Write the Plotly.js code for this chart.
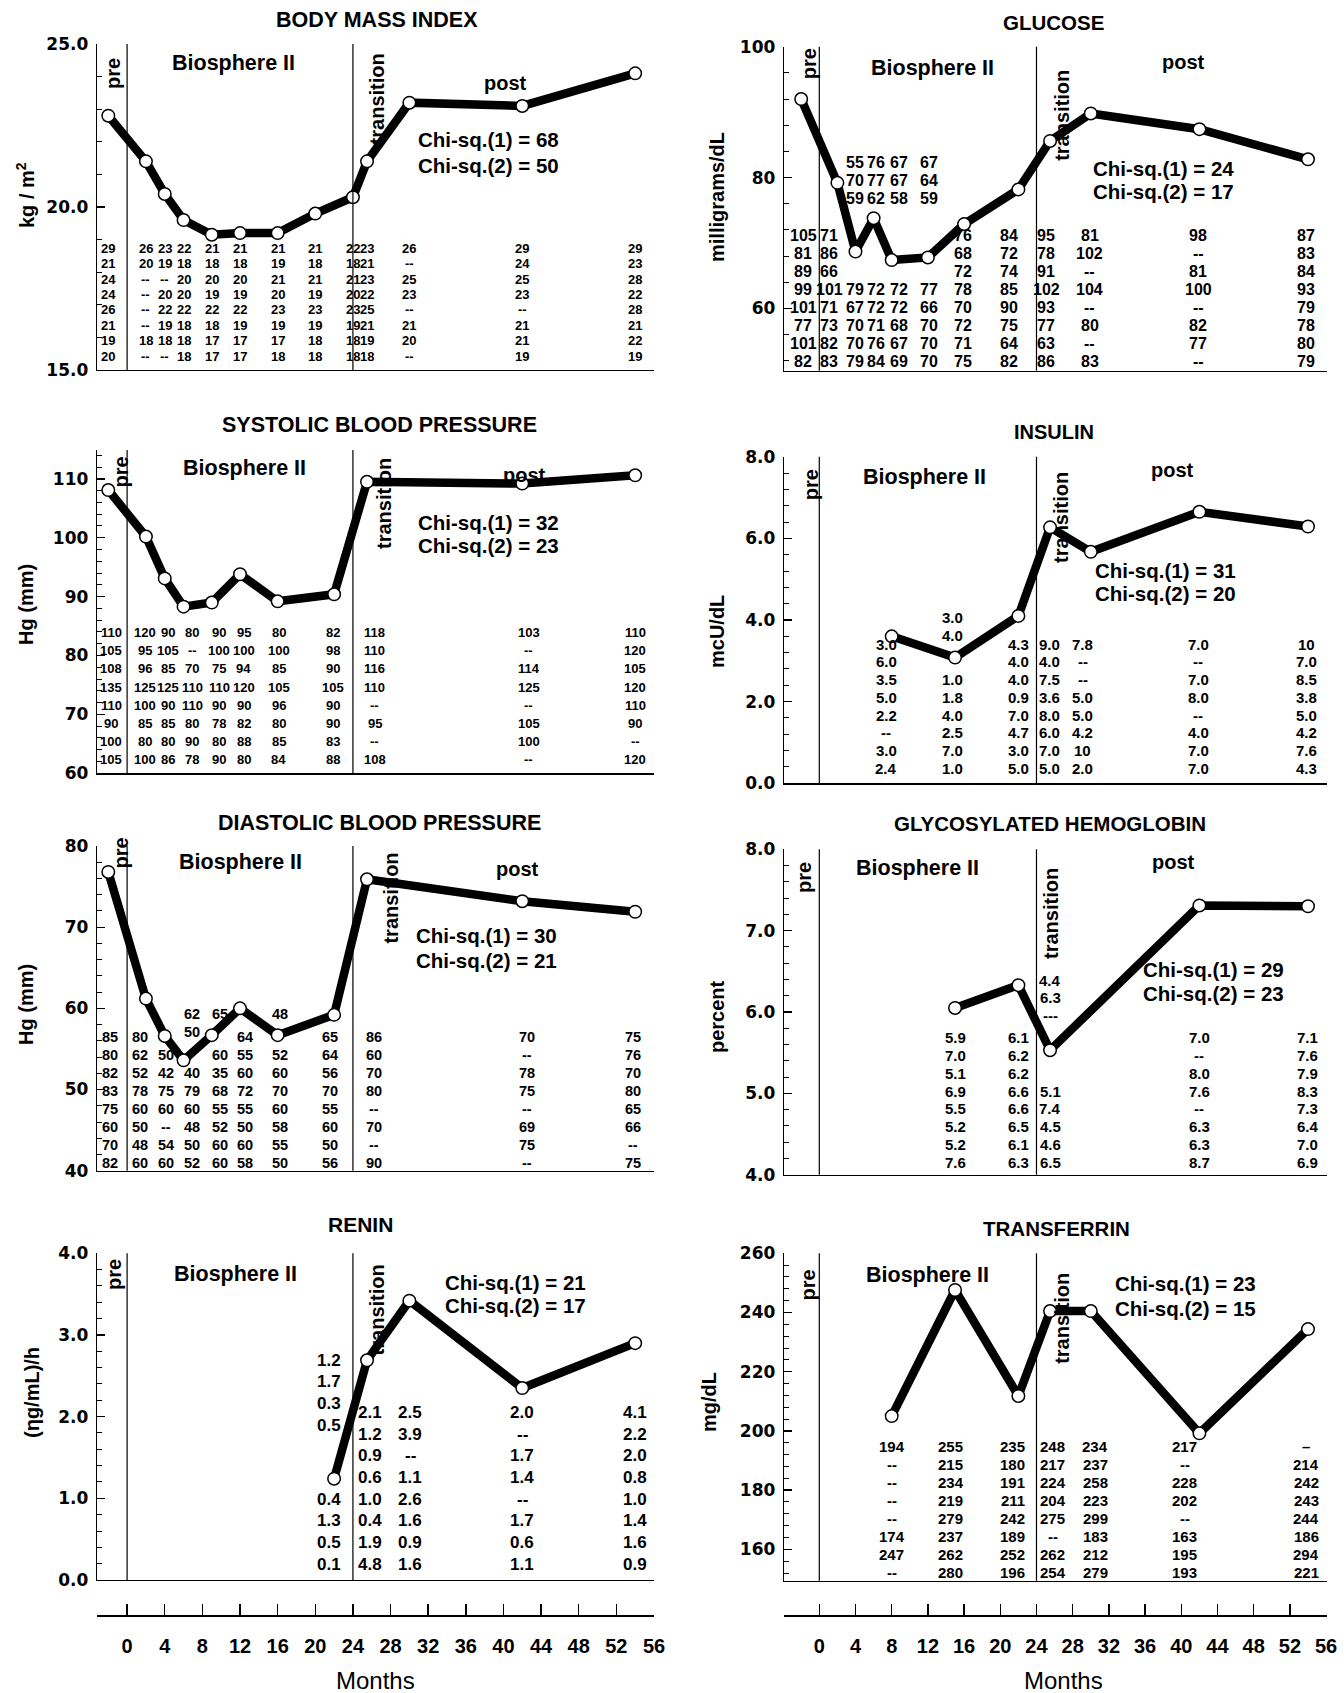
<!DOCTYPE html>
<html><head><meta charset="utf-8">
<script src="https://cdn.plot.ly/plotly-3.0.1.min.js"></script>
<style>html,body{margin:0;padding:0;background:#fff}#chart{width:1344px;height:1693px}</style>
</head><body><div id="chart"></div>
<script>
// ================= DATA =================
const monthTicks = [0,4,8,12,16,20,24,28,32,36,40,44,48,52,56];

const panelTitles = ["BODY MASS INDEX","GLUCOSE","SYSTOLIC BLOOD PRESSURE","INSULIN","DIASTOLIC BLOOD PRESSURE","GLYCOSYLATED HEMOGLOBIN","RENIN","TRANSFERRIN"];
const yTitles = ["kg / m<sup>2</sup>","milligrams/dL","Hg (mm)","mcU/dL","Hg (mm)","percent","(ηg/mL)/h","mg/dL"];
const chiSq1 = [68,24,32,31,30,29,21,23];
const chiSq2 = [50,17,23,20,21,23,17,15];
const phaseLabels = ["pre","Biosphere II","transition","post"];

const bmiMonths = [-2,2,4,6,9,12,16,20,24,25.5,30,42,54];
const bmiValues = [22.8,21.4,20.4,19.6,19.15,19.2,19.2,19.8,20.3,21.4,23.2,23.1,24.1];
const bmiTable = [
 ["29","21","24","24","26","21","19","20"],
 ["26","20","--","--","--","--","18","--"],
 ["23","19","--","20","22","19","18","--"],
 ["22","18","20","20","22","18","18","18"],
 ["21","18","20","19","22","18","17","17"],
 ["21","18","20","19","22","19","17","17"],
 ["21","19","21","20","23","19","17","18"],
 ["21","18","21","19","23","19","18","18"],
 ["22","18","21","20","23","19","18","18"],
 ["23","21","23","22","25","21","19","18"],
 ["26","--","25","23","--","21","20","--"],
 ["29","24","25","23","--","21","21","19"],
 ["29","23","28","22","28","21","22","19"]
];

const gluMonths = [-2,2,4,6,8,12,16,22,25.5,30,42,54];
const gluValues = [92,79.2,68.7,73.8,67.4,67.8,72.9,78.2,85.6,89.8,87.4,82.8];
const gluTable = [
 ["105","81","89","99","101","77","101","82"],
 ["71","86","66","101","71","73","82","83"],
 ["55","70","59","79","67","70","70","79"],
 ["76","77","62","72","72","71","76","84"],
 ["67","67","58","72","72","68","67","69"],
 ["67","64","59","77","66","70","70","70"],
 ["76","68","72","78","70","72","71","75"],
 ["84","72","74","85","90","75","64","82"],
 ["95","78","91","102","93","77","63","86"],
 ["81","102","--","104","--","80","--","83"],
 ["98","--","81","100","--","82","77","--"],
 ["87","83","84","93","79","78","80","79"]
];

const sbpMonths = [-2,2,4,6,9,12,16,22,25.5,42,54];
const sbpValues = [108.1,100.2,93.1,88.3,89.0,93.8,89.2,90.4,109.5,109.2,110.6];
const sbpTable = [
 ["110","105","108","135","110","90","100","105"],
 ["120","95","96","125","100","85","80","100"],
 ["90","105","85","125","90","85","80","86"],
 ["80","--","70","110","110","80","90","78"],
 ["90","100","75","110","90","78","80","90"],
 ["95","100","94","120","90","82","88","80"],
 ["80","100","85","105","96","80","85","84"],
 ["82","98","90","105","90","90","83","88"],
 ["118","110","116","110","--","95","--","108"],
 ["103","--","114","125","--","105","100","--"],
 ["110","120","105","120","110","90","--","120"]
];

const insMonths = [8,15,22,25.5,30,42,54];
const insValues = [3.6,3.08,4.1,6.27,5.67,6.65,6.29];
const insTable = [
 ["3.0","6.0","3.5","5.0","2.2","--","3.0","2.4"],
 ["3.0","4.0","1.0","1.8","4.0","2.5","7.0","1.0"],
 ["4.3","4.0","4.0","0.9","7.0","4.7","3.0","5.0"],
 ["9.0","4.0","7.5","3.6","8.0","6.0","7.0","5.0"],
 ["7.8","--","--","5.0","5.0","4.2","10","2.0"],
 ["7.0","--","7.0","8.0","--","4.0","7.0","7.0"],
 ["10","7.0","8.5","3.8","5.0","4.2","7.6","4.3"]
];

const dbpMonths = [-2,2,4,6,9,12,16,22,25.5,42,54];
const dbpValues = [76.8,61.2,56.6,53.6,56.7,60.0,56.7,59.2,75.9,73.2,71.9];
const dbpTable = [
 ["85","80","82","83","75","60","70","82"],
 ["80","62","52","78","60","50","48","60"],
 ["","50","42","75","60","--","54","60"],
 ["62","50","40","79","60","48","50","52"],
 ["65","60","35","68","55","52","60","60"],
 ["64","55","60","72","55","50","60","58"],
 ["48","52","60","70","60","58","55","50"],
 ["65","64","56","70","55","60","50","56"],
 ["86","60","70","80","--","70","--","90"],
 ["70","--","78","75","--","69","75","--"],
 ["75","76","70","80","65","66","--","75"]
];

const hbaMonths = [15,22,25.5,42,54];
const hbaValues = [6.05,6.33,5.53,7.31,7.30];
const hbaTable = [
 ["5.9","7.0","5.1","6.9","5.5","5.2","5.2","7.6"],
 ["6.1","6.2","6.2","6.6","6.6","6.5","6.1","6.3"],
 ["4.4","6.3","---","5.1","7.4","4.5","4.6","6.5"],
 ["7.0","--","8.0","7.6","--","6.3","6.3","8.7"],
 ["7.1","7.6","7.9","8.3","7.3","6.4","7.0","6.9"]
];

const reninMonths = [22,25.5,30,42,54];
const reninValues = [1.24,2.69,3.42,2.35,2.90];
const reninTable = [
 ["1.2","1.7","0.3","0.5","0.4","1.3","0.5","0.1"],
 ["2.1","1.2","0.9","0.6","1.0","0.4","1.9","4.8"],
 ["2.5","3.9","--","1.1","2.6","1.6","0.9","1.6"],
 ["2.0","--","1.7","1.4","--","1.7","0.6","1.1"],
 ["4.1","2.2","2.0","0.8","1.0","1.4","1.6","0.9"]
];

const trfMonths = [8,15,22,25.5,30,42,54];
const trfValues = [205.0,247.6,211.8,240.5,240.5,199.2,234.4];
const trfTable = [
 ["194","--","--","--","--","174","247","--"],
 ["255","215","234","219","279","237","262","280"],
 ["235","180","191","211","242","189","252","196"],
 ["248","217","224","204","275","--","262","254"],
 ["234","237","258","223","299","183","212","279"],
 ["217","--","228","202","--","163","195","193"],
 ["–","214","242","243","244","186","294","221"]
];

const series = [
 {months:bmiMonths, values:bmiValues, table:bmiTable},
 {months:gluMonths, values:gluValues, table:gluTable},
 {months:sbpMonths, values:sbpValues, table:sbpTable},
 {months:insMonths, values:insValues, table:insTable},
 {months:dbpMonths, values:dbpValues, table:dbpTable},
 {months:hbaMonths, values:hbaValues, table:hbaTable},
 {months:reninMonths, values:reninValues, table:reninTable},
 {months:trfMonths, values:trfValues, table:trfTable}
];

// ================= LAYOUT / STYLE =================
const W = 1344, H = 1693;
const PX = v => v / W, PY = v => 1 - v / H;
const COLS = {L:{x0:97, x1:654, range:[-3.2,56]}, R:{x0:784, x1:1327, range:[-3.9,56.1]}};
const TXT = "'Liberation Sans', Arial, Helvetica, sans-serif";
const NUM = "'DejaVu Sans', 'Liberation Sans', sans-serif";

// tx: horizontal placement of the table columns (month units), null = under the point
const geo = [
 {col:'L', top:44, bot:370, yr:[15,25], dtick:5, minor:1, fmt:'.1f', title:[377,20], tsz:21.5, ylab:[26,195],
  tfam:TXT, tfont:13, t0:248.3, ts:15.4, raise:{cells:[], by:0}, tx:null,
  pre:[-1.5,73], bio:[11.3,63], trans:[26.6,99], post:[40.2,83], chi:[30.7,140,165]},
 {col:'R', top:46.7, bot:370.7, yr:[50.5,100], dtick:20, minor:4, fmt:'d', title:[1053,23], tsz:20.5, ylab:[717,197],
  tfam:TXT, tfont:16, t0:235, ts:18.1, raise:{cells:[[2,0],[2,1],[2,2],[3,0],[3,1],[3,2],[4,0],[4,1],[4,2],[5,0],[5,1],[5,2]], by:4},
  tx:[-1.8,1.1,3.9,6.3,8.8,12.1,15.9,21.0,25.1,29.9,41.9,53.8],
  pre:[-1.1,64], bio:[12.5,68], trans:[26.8,115], post:[40.2,62], chi:[30.0,168,192]},
 {col:'L', top:450, bot:773.3, yr:[60,114.9], dtick:10, minor:2, fmt:'d', title:[379,425], tsz:21.5, ylab:[26,605],
  tfam:TXT, tfont:13, t0:632.3, ts:18.24, raise:{cells:[], by:0},
  tx:[-1.7,1.9,4.3,6.9,9.8,12.4,16.1,21.9,26.3,42.7,54.0],
  pre:[-0.6,472], bio:[12.5,468], trans:[27.3,503], post:[42.2,475], chi:[30.7,522,545]},
 {col:'R', top:456.7, bot:783.3, yr:[0,8], dtick:2, minor:0.4, fmt:'.1f', title:[1054,432], tsz:20, ylab:[717,632],
  tfam:TXT, tfont:15, t0:644.3, ts:17.7, raise:{cells:[[1,0],[1,1]], by:1.5},
  tx:[7.4,14.7,22.0,25.4,29.1,41.9,53.8],
  pre:[-0.9,485], bio:[11.6,477], trans:[26.7,517], post:[39.0,470], chi:[30.2,570,593]},
 {col:'L', top:846, bot:1170.7, yr:[40,80], dtick:10, minor:2, fmt:'d', title:[379,823], tsz:21.5, ylab:[26,1005],
  tfam:TXT, tfont:14.5, t0:1037.3, ts:17.9, raise:{cells:[[3,0],[3,1],[4,0],[6,0]], by:1.29},
  tx:[-1.8,1.4,4.1,6.9,9.9,12.5,16.3,21.6,26.2,42.5,53.8],
  pre:[-0.6,853], bio:[12.1,862], trans:[28.0,898], post:[41.5,869], chi:[30.5,935,960]},
 {col:'R', top:849.3, bot:1174.7, yr:[4,8], dtick:1, minor:0.2, fmt:'.1f', title:[1050,823], tsz:20.5, ylab:[717,1017],
  tfam:TXT, tfont:15, t0:1037.3, ts:17.9, raise:{cells:[[2,0],[2,1],[2,2]], by:3.2}, tx:null,
  pre:[-1.7,877], bio:[10.8,868], trans:[25.6,913], post:[39.1,862], chi:[35.5,969,993]},
 {col:'L', top:1253.3, bot:1580, yr:[0,4], dtick:1, minor:0.2, fmt:'.1f', title:[360,1224], tsz:21, ylab:[32,1393],
  tfam:TXT, tfont:17, t0:1412.3, ts:21.7, raise:{cells:[[0,0],[0,1],[0,2],[0,3]], by:2.4},
  tx:[21.5,25.8,30.1,42,54],
  pre:[-1.4,1274], bio:[11.5,1274], trans:[26.6,1310], post:null, chi:[33.6,1282,1305]},
 {col:'R', top:1253.3, bot:1580.7, yr:[149.4,260], dtick:20, minor:4, fmt:'d', title:[1056,1228], tsz:20.5, ylab:[709,1402],
  tfam:TXT, tfont:15, t0:1446.7, ts:17.95, raise:{cells:[], by:0},
  tx:[8.0,14.5,21.4,25.8,30.5,40.4,53.8],
  pre:[-1.2,1285], bio:[12.0,1275], trans:[26.8,1318], post:null, chi:[32.4,1283,1308]}
];

const data = [];
const shapes = [];
const annotations = [];
const layout = {
  width: W, height: H, margin:{l:0,r:0,t:0,b:0},
  paper_bgcolor:'#fff', plot_bgcolor:'rgba(0,0,0,0)', showlegend:false,
  font:{family:TXT, color:'#000'},
  shapes, annotations
};

const boldTxt = (size, fam) => ({family:fam || TXT, size:size, color:'#000', weight:700});

geo.forEach((g, k) => {
  const i = k + 1;
  const c = COLS[g.col];
  const xa = 'x' + i, ya = 'y' + i;
  const s = series[k];
  layout['xaxis' + i] = {
    domain:[PX(c.x0), PX(c.x1)], range:c.range, anchor:ya,
    showline:true, linecolor:'#000', linewidth:1.3, ticks:'', showticklabels:false,
    showgrid:false, zeroline:false, fixedrange:true
  };
  layout['yaxis' + i] = {
    domain:[PY(g.bot), PY(g.top)], range:g.yr, anchor:xa,
    showline:true, linecolor:'#000', linewidth:1.3,
    ticks:'inside', ticklen:8, tickwidth:1.3, tickcolor:'#000',
    tick0:0, dtick:g.dtick, tickformat:g.fmt, ticklabelstandoff:4,
    tickfont:{family:NUM, size:17, color:'#000', weight:700},
    minor:{dtick:g.minor, tick0:0, ticks:'inside', ticklen:5, tickwidth:1, tickcolor:'#000', showgrid:false},
    showgrid:false, zeroline:false, fixedrange:true
  };
  data.push({
    type:'scatter', mode:'lines+markers', x:s.months, y:s.values, xaxis:xa, yaxis:ya,
    line:{color:'#000', width:8.5}, cliponaxis:false, hoverinfo:'skip',
    marker:{symbol:'circle', size:12.5, color:'#fff', line:{color:'#000', width:1.5}}
  });
  // phase dividers at month 0 and 24
  [0, 24].forEach(m => shapes.push({type:'line', xref:xa, yref:ya + ' domain', x0:m, x1:m, y0:0, y1:1,
    line:{color:'#000', width:1.2}}));
  // title & y label
  annotations.push({xref:'paper', yref:'paper', x:PX(g.title[0]), y:PY(g.title[1]), text:panelTitles[k],
    showarrow:false, xanchor:'center', yanchor:'middle', font:boldTxt(g.tsz)});
  annotations.push({xref:'paper', yref:'paper', x:PX(g.ylab[0]), y:PY(g.ylab[1]), text:yTitles[k],
    showarrow:false, xanchor:'center', yanchor:'middle', textangle:-90, font:boldTxt(20)});
  // phase labels
  annotations.push({xref:xa, yref:'paper', x:g.pre[0], y:PY(g.pre[1]), text:phaseLabels[0], textangle:-90,
    showarrow:false, xanchor:'center', yanchor:'middle', font:boldTxt(20)});
  annotations.push({xref:xa, yref:'paper', x:g.bio[0], y:PY(g.bio[1]), text:phaseLabels[1],
    showarrow:false, xanchor:'center', yanchor:'middle', font:boldTxt(21.5)});
  annotations.push({xref:xa, yref:'paper', x:g.trans[0], y:PY(g.trans[1]), text:phaseLabels[2], textangle:-90,
    showarrow:false, xanchor:'center', yanchor:'middle', font:boldTxt(20)});
  if (g.post) annotations.push({xref:xa, yref:'paper', x:g.post[0], y:PY(g.post[1]), text:phaseLabels[3],
    showarrow:false, xanchor:'center', yanchor:'middle', font:boldTxt(20)});
  annotations.push({xref:xa, yref:'paper', x:g.chi[0], y:PY(g.chi[1]), text:'Chi-sq.(1) = ' + chiSq1[k],
    showarrow:false, xanchor:'left', yanchor:'middle', font:boldTxt(20.5)});
  annotations.push({xref:xa, yref:'paper', x:g.chi[0], y:PY(g.chi[2]), text:'Chi-sq.(2) = ' + chiSq2[k],
    showarrow:false, xanchor:'left', yanchor:'middle', font:boldTxt(20.5)});
  // data table under the curve
  s.table.forEach((colVals, ci) => {
    const xc = g.tx ? g.tx[ci] : s.months[ci];
    colVals.forEach((txt, ri) => {
      if (!txt) return;
      const raised = g.raise.cells.some(p => p[0] === ci && p[1] === ri);
      const yp = g.t0 + g.ts * (ri - (raised ? g.raise.by : 0));
      annotations.push({xref:xa, yref:'paper', x:xc, y:PY(yp), text:txt,
        showarrow:false, xanchor:'center', yanchor:'middle', font:boldTxt(g.tfont, g.tfam)});
    });
  });
});

// month axes below the bottom row
[['L', 9, 375], ['R', 10, 1063]].forEach(([cn, i, mx]) => {
  const c = COLS[cn];
  layout['xaxis' + i] = {
    domain:[PX(c.x0), PX(c.x1)], range:c.range, anchor:'y' + i,
    showline:true, linecolor:'#000', linewidth:1.5,
    ticks:'inside', ticklen:11, tickwidth:1.5, tickcolor:'#000',
    tickvals:monthTicks, ticktext:monthTicks.map(String), ticklabelstandoff:12,
    tickfont:{family:TXT, size:20, color:'#000', weight:700},
    showgrid:false, zeroline:false, fixedrange:true
  };
  layout['yaxis' + i] = {domain:[PY(1615), PY(1600)], range:[0,1], anchor:'x' + i, visible:false, fixedrange:true};
  data.push({type:'scatter', mode:'none', x:monthTicks, y:monthTicks.map(() => 0),
    xaxis:'x' + i, yaxis:'y' + i, hoverinfo:'skip'});
  annotations.push({xref:'paper', yref:'paper', x:PX(mx), y:PY(1680), text:'Months', showarrow:false,
    xanchor:'center', yanchor:'middle', font:{family:TXT, size:24, color:'#000'}});
});

Plotly.newPlot('chart', data, layout, {staticPlot:true, displayModeBar:false});
</script>
</body></html>
